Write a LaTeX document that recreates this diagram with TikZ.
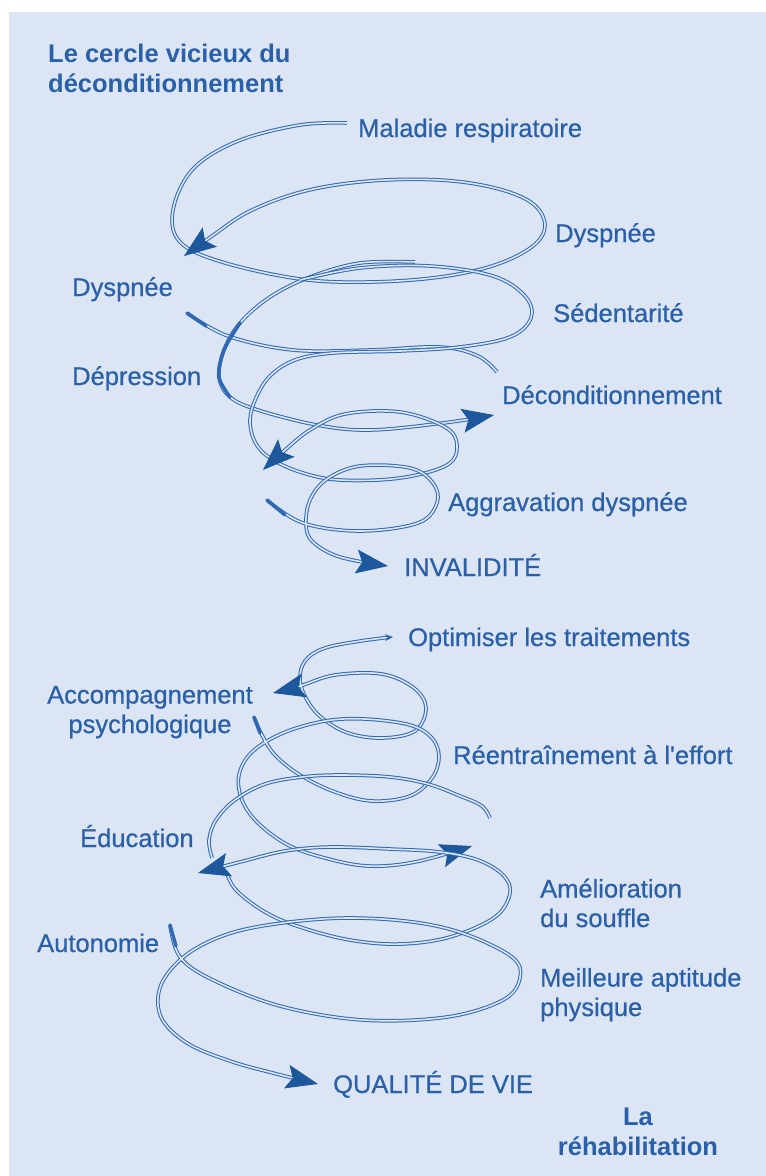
\documentclass[tikz,border=0pt]{standalone}
\usepackage{fontspec}
\setmainfont{Liberation Sans}
\newfontfamily\lblfont[FakeBold=0.6]{Liberation Sans}
\usetikzlibrary{arrows.meta}
\definecolor{bgblue}{HTML}{DCE5F4}
\definecolor{ribblue}{HTML}{2F69B2}
\definecolor{txtblue}{HTML}{2A60A8}
\definecolor{tipblue}{HTML}{1D589C}

\begin{document}
\begin{tikzpicture}[x=1pt, y=-1pt,
  lbl/.style={anchor=base west, inner sep=0pt, text=txtblue, font=\lblfont\fontsize{25.5}{29.5}\selectfont},
  ribbon/.style={draw=ribblue, double=bgblue, line width=1pt, double distance=1.6pt, smooth, tension=0.6},
  bigtip/.style={-{Stealth[length=32pt, width=24pt, inset=6pt, color=tipblue]}},
  thickend/.style={draw=ribblue, line width=3.4pt, line cap=round, smooth}]
  \useasboundingbox (0,0) rectangle (766,1176);
  \fill[white] (0,0) rectangle (766,1176);
  \fill[bgblue] (9,12) rectangle (766,1176);

  % le cercle vicieux
  \node[lbl, align=left, font=\bfseries\fontsize{25.5}{29.5}\selectfont] (title) at (48,92) {Le cercle vicieux du\\déconditionnement};
  \node[lbl] (maladie) at (358,137) {Maladie respiratoire};
  \node[lbl] (dyspneeR) at (555,242) {Dyspnée};
  \node[lbl] (dyspneeL) at (72,296) {Dyspnée};
  \node[lbl] (sedentarite) at (553,322) {Sédentarité};
  \node[lbl] (depression) at (72,385) {Dépression};
  \node[lbl] (decond) at (502,404) {Déconditionnement};
  \node[lbl] (aggravation) at (448,511) {Aggravation dyspnée};
  \node[lbl] (invalidite) at (404,576) {INVALIDITÉ};

  \draw[ribbon, bigtip] plot coordinates {(347,123) (300,125) (238,141) (193,169) (173,210) (180,242) (222,262) (300,279) (370,282) (440,277) (495,265) (533,246) (545,225) (532,203) (495,188) (440,180) (370,181) (305,191) (250,211) (212,236) (184,256)};
  \draw[ribbon] plot coordinates {(187,313) (228,336) (293,350) (370,350) (440,347) (478,356) (497,372)};
  \draw[thickend] plot coordinates {(187,313) (206,326)};
  \draw[ribbon, bigtip] plot coordinates {(415,262) (360,263) (310,277) (270,297) (240,323) (224,350) (219,377) (230,397) (258,410) (317,425) (370,430) (443,423) (494,415)};
  \draw[thickend] plot coordinates {(240,323) (224,350) (219,377) (230,397)};
  \draw[ribbon, bigtip] plot coordinates {(300,280) (360,268) (430,266) (493,276) (525,296) (531,318) (510,337) (460,347) (400,351) (333,353) (295,360) (270,376) (256,398) (250,420) (255,442) (270,458) (300,472) (340,480) (400,478) (447,465) (457,445) (445,427) (400,412) (345,414) (310,430) (285,450) (263,470)};
  \draw[ribbon, bigtip] plot coordinates {(267,500) (303,523) (360,531) (418,523) (437,503) (433,483) (410,468) (360,466) (327,479) (310,500) (306,525) (313,542) (340,557) (388,566)};
  \draw[thickend] plot coordinates {(267,500) (285,515)};

  % la rehabilitation
  \node[lbl] (optimiser) at (408,646) {Optimiser les traitements};
  \node[lbl, anchor=base, align=center] (accompagnement) at (150,733) {Accompagnement\\psychologique};
  \node[lbl] (reentrainement) at (453,764) {Réentraînement à l'effort};
  \node[lbl] (education) at (80,847) {Éducation};
  \node[lbl, align=left] (amelioration) at (540,927) {Amélioration\\du souffle};
  \node[lbl] (autonomie) at (37,952) {Autonomie};
  \node[lbl, align=left] (aptitude) at (540,1016) {Meilleure aptitude\\physique};
  \node[lbl] (qualite) at (333,1093) {QUALITÉ DE VIE};
  \node[lbl, anchor=base, align=center, font=\bfseries\fontsize{25.5}{29.5}\selectfont] (rehab) at (638,1155) {La\\réhabilitation};

  \draw[ribbon, arrows={Stealth[length=8pt, width=7pt, color=ribblue]-Stealth[length=32pt, width=24pt, inset=6pt, color=tipblue]}] plot coordinates {(393,637) (367,640) (325,648) (305,661) (300,680) (307,700) (322,718) (348,733) (382,738) (415,731) (426,708) (414,688) (382,674) (335,675) (300,686) (273,693)};
  \draw[ribbon, bigtip] plot coordinates {(254,717) (262,735) (275,755) (300,775) (335,792) (372,801) (410,796) (432,778) (439,757) (432,738) (410,725) (365,719) (325,721) (283,733) (252,752) (239,775) (242,800) (258,823) (288,845) (325,858) (368,866) (415,862) (472,846)};
  \draw[thickend] plot coordinates {(254,717) (260,733)};
  \draw[ribbon] plot coordinates {(490,818) (482,806) (460,796) (428,784) (390,777) (340,775) (302,777) (265,784) (235,800) (216,820) (209,840) (212,858)};
  \draw[ribbon, bigtip] plot coordinates {(226,871) (236,890) (265,912) (300,927) (350,940) (400,944) (450,937) (495,917) (510,893) (503,875) (478,860) (440,852) (390,849) (330,847) (285,851) (240,862) (198,873)};
  \draw[ribbon, bigtip] plot coordinates {(170,925) (180,957) (213,980) (280,1006) (363,1020) (447,1017) (503,1000) (520,978) (512,957) (465,934) (413,922) (347,918) (282,923) (228,934) (186,955) (161,985) (161,1017) (187,1043) (230,1061) (273,1073) (318,1084)};
  \draw[thickend] plot coordinates {(170,925) (176,946)};
\end{tikzpicture}
\end{document}
